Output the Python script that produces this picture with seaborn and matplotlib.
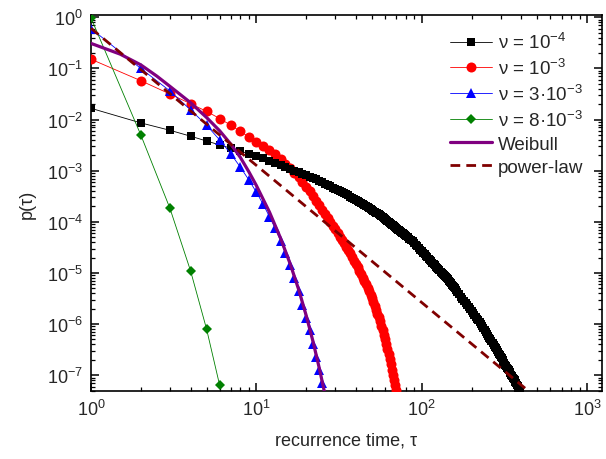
import numpy as np
import pandas as pd
import matplotlib
matplotlib.use("Agg")
import matplotlib.pyplot as plt
import matplotlib.ticker as mticker
import seaborn as sns

sns.set_style("ticks")
plt.rcParams['font.family'] = ['Liberation Sans', 'DejaVu Sans']
plt.rcParams['mathtext.fontset'] = 'custom'
plt.rcParams['mathtext.rm'] = 'Liberation Sans'
plt.rcParams['mathtext.it'] = 'Liberation Sans:italic'
plt.rcParams['mathtext.bf'] = 'Liberation Sans:bold'

# ---------------- data (log10 of p) ----------------
black_tau = list(range(1, 81)) + list(range(82, 161, 2)) + list(range(164, 393, 4))
black_logp = [
    # tau 1..80
    -1.78, -2.065, -2.21, -2.325, -2.42, -2.495, -2.56, -2.62, -2.665, -2.71,
    -2.761, -2.807, -2.850, -2.89, -2.928, -2.964, -2.998, -3.030, -3.060, -3.088,
    -3.115, -3.141, -3.170, -3.200, -3.228, -3.255, -3.281, -3.306, -3.330, -3.353,
    -3.375, -3.397, -3.418, -3.439, -3.459, -3.484, -3.508, -3.531, -3.554, -3.576,
    -3.597, -3.618, -3.639, -3.659, -3.678, -3.697, -3.716, -3.734, -3.752, -3.770,
    -3.787, -3.804, -3.820, -3.836, -3.852, -3.868, -3.888, -3.910, -3.927, -3.948,
    -3.964, -3.985, -4.001, -4.021, -4.036, -4.056, -4.070, -4.090, -4.104, -4.122,
    -4.136, -4.154, -4.167, -4.185, -4.198, -4.215, -4.228, -4.244, -4.256, -4.273,
    # tau 82..160 step 2
    -4.301, -4.328, -4.355, -4.381, -4.417, -4.450, -4.483, -4.515, -4.546, -4.577,
    -4.607, -4.636, -4.665, -4.694, -4.722, -4.749, -4.776, -4.803, -4.829, -4.854,
    -4.880, -4.904, -4.929, -4.952, -4.976, -4.999, -5.022, -5.045, -5.067, -5.089,
    -5.108, -5.127, -5.153, -5.178, -5.204, -5.228, -5.253, -5.278, -5.302, -5.325,
    # tau 164..392 step 4
    -5.372, -5.418, -5.462, -5.505, -5.548, -5.589, -5.630, -5.670, -5.709, -5.747,
    -5.784, -5.821, -5.857, -5.892, -5.927, -5.961, -5.991, -6.032, -6.072, -6.112,
    -6.151, -6.190, -6.228, -6.265, -6.302, -6.338, -6.373, -6.409, -6.443, -6.477,
    -6.511, -6.544, -6.577, -6.609, -6.640, -6.672, -6.703, -6.733, -6.764, -6.793,
    -6.823, -6.852, -6.880, -6.908, -6.937, -6.964, -6.992, -7.018, -7.046, -7.071,
    -7.100, -7.129, -7.158, -7.186, -7.214, -7.242, -7.269, -7.297,
]

red_tau = list(range(1, 71))
red_logp = [
    -0.82, -1.24, -1.50, -1.69, -1.84, -1.98, -2.11, -2.23, -2.34, -2.43,
    -2.51, -2.60, -2.68, -2.77, -2.86, -2.95, -3.04, -3.13, -3.22, -3.31,
    -3.40, -3.50, -3.59, -3.68, -3.76, -3.85, -3.93, -4.01, -4.08, -4.15,
    -4.22, -4.29, -4.35, -4.42, -4.49, -4.55, -4.62, -4.69, -4.76, -4.83,
    -4.89, -4.96, -5.02, -5.09, -5.15, -5.22, -5.29, -5.36, -5.43, -5.50,
    -5.57, -5.65, -5.72, -5.80, -5.87, -5.95, -6.03, -6.12, -6.21, -6.30,
    -6.39, -6.48, -6.58, -6.68, -6.78, -6.89, -6.99, -7.09, -7.19, -7.30,
]

blue_tau = list(range(1, 26))
blue_logp = [
    -0.22, -1.00, -1.44, -1.81, -2.11, -2.40, -2.67, -2.93, -3.18, -3.42,
    -3.66, -3.90, -4.13, -4.37, -4.61, -4.85, -5.10, -5.35, -5.62, -5.88,
    -6.12, -6.39, -6.64, -6.90, -7.15,
]

green_tau = [1, 2, 3, 4, 5, 6]
green_logp = [-0.01, -2.30, -3.735, -4.96, -6.10, -7.20]

weibull_tau = [1, 1.5, 2, 2.5, 3, 4, 5, 6, 7, 8, 9, 10, 12, 14, 16, 18, 20, 22, 24, 26]
weibull_logp = [-0.51, -0.72, -0.93, -1.15, -1.35, -1.67, -1.96, -2.22, -2.48, -2.74,
                -3.02, -3.29, -3.81, -4.32, -4.82, -5.32, -5.83, -6.34, -6.86, -7.38]

power_tau = [1, 442]
power_logp = [-0.215, -7.31]

labels = [r"ν = 10$^{-4}$", r"ν = 10$^{-3}$", r"ν = 3·10$^{-3}$", r"ν = 8·10$^{-3}$", "Weibull", "power-law"]

x_major = [1, 10, 100, 1000]
y_major = [1e0, 1e-1, 1e-2, 1e-3, 1e-4, 1e-5, 1e-6, 1e-7]

assert len(black_tau) == len(black_logp)
assert len(red_tau) == len(red_logp)

def frame(t, lp):
    return pd.DataFrame({"tau": np.asarray(t, float), "p": 10.0 ** np.asarray(lp, float)})

# ---------------- figure ----------------
fig = plt.figure(figsize=(6.06, 4.60), dpi=100)
ax = fig.add_axes([91 / 606, 1 - 392 / 460, (602 - 91) / 606, (392 - 16) / 460])

common = dict(estimator=None, sort=False, ax=ax, legend=False)

sns.lineplot(data=frame(red_tau, red_logp), x="tau", y="p", color="#FF0000", lw=0.6,
             marker="o", markersize=7.2, markeredgewidth=0, markeredgecolor="#FF0000",
             zorder=3, **common)
sns.lineplot(data=frame(black_tau, black_logp), x="tau", y="p", color="#000000", lw=0.6,
             marker="s", markersize=6.4, markeredgewidth=0, markeredgecolor="#000000",
             zorder=4, **common)
sns.lineplot(data=frame(blue_tau, blue_logp), x="tau", y="p", color="#0000FF", lw=0.6,
             marker="^", markersize=7.5, markeredgewidth=0, markeredgecolor="#0000FF",
             zorder=5, **common)
sns.lineplot(data=frame(green_tau, green_logp), x="tau", y="p", color="#008000", lw=0.6,
             marker="D", markersize=5.0, markeredgewidth=0, markeredgecolor="#008000",
             zorder=6, **common)
sns.lineplot(data=frame(weibull_tau, weibull_logp), x="tau", y="p", color="#800080", lw=2.3,
             zorder=7, **common)
sns.lineplot(data=frame(power_tau, power_logp), x="tau", y="p", color="#800000", lw=2.0,
             dashes=False, zorder=8, **common)
ax.lines[-1].set_dashes([3.5, 2.2])

ax.set_xscale("log")
ax.set_yscale("log")
ax.set_xlim(1, 1230)
ax.set_ylim(4.9e-8, 1.11)

ax.xaxis.set_major_locator(mticker.FixedLocator(x_major))
ax.yaxis.set_major_locator(mticker.FixedLocator(y_major))
ax.xaxis.set_major_formatter(mticker.LogFormatterSciNotation(base=10))
ax.yaxis.set_major_formatter(mticker.LogFormatterSciNotation(base=10))
ax.xaxis.set_minor_locator(mticker.LogLocator(base=10, subs=np.arange(2, 10), numticks=50))
ax.yaxis.set_minor_locator(mticker.LogLocator(base=10, subs=np.arange(2, 10), numticks=50))
ax.xaxis.set_minor_formatter(mticker.NullFormatter())
ax.yaxis.set_minor_formatter(mticker.NullFormatter())

ax.tick_params(which="both", direction="in", top=True, right=True, color="black")
ax.tick_params(which="major", length=6, width=1.1, labelsize=13, pad=6)
ax.tick_params(which="minor", length=3, width=0.9)
for s in ax.spines.values():
    s.set_linewidth(1.2)
    s.set_color("black")

ax.set_xlabel("recurrence time, τ", fontsize=13, labelpad=9)
ax.set_ylabel("p(τ)", fontsize=13, labelpad=8)

# legend in the reference order
order = [1, 0, 2, 3, 4, 5]  # drawn order: red, black, blue, green, weibull, power
handles = [ax.lines[i] for i in order]
leg = ax.legend(handles, labels, loc="upper left",
                bbox_to_anchor=(450 / 606, 1 - 33 / 460), bbox_transform=fig.transFigure,
                frameon=False, fontsize=13.5, handlelength=2.25, handletextpad=0.3,
                labelspacing=0.31, numpoints=1, borderpad=0, borderaxespad=0)

fig.savefig("out.png", dpi=100)
